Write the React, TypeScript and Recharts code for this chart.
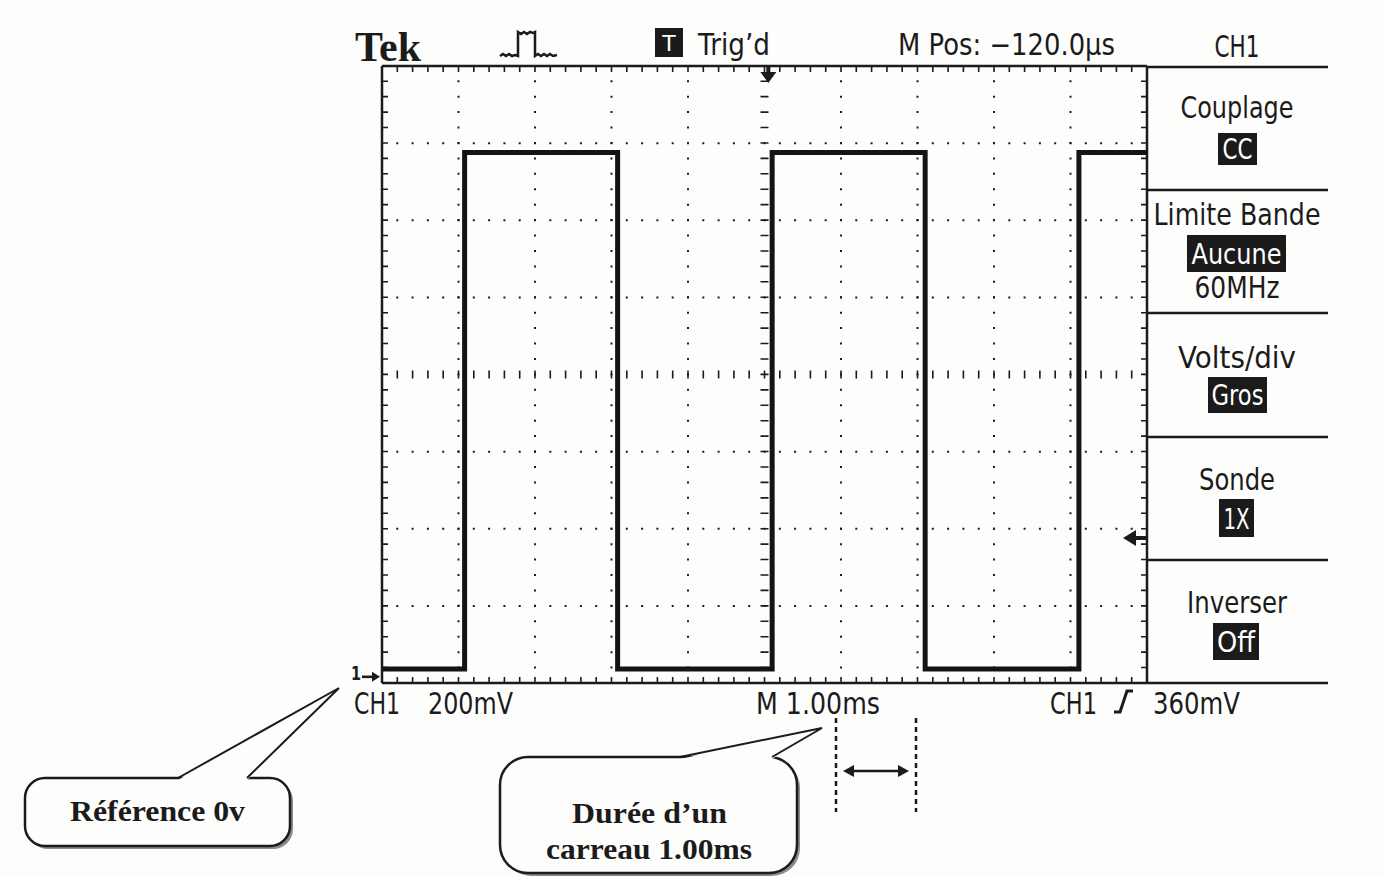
import { LineChart, Line, XAxis, YAxis, ReferenceLine, ReferenceDot } from "recharts";

// CH1 trace: time in ms (1.00 ms/div), level in volts (200 mV/div)
const timeMs = [0, 1.08, 1.08, 3.08, 3.08, 5.1, 5.1, 7.1, 7.1, 9.11, 9.11, 10];
const levelV = [0.02, 0.02, 1.36, 1.36, 0.02, 0.02, 1.36, 1.36, 0.02, 0.02, 1.36, 1.36];

const triggerTimeMs = 5.05;
const triggerLevelV = 0.36;
const groundV = 0;

const xMajorDivs = [1, 2, 3, 4, 6, 7, 8, 9];
const yMajorDivs = [1, 2, 3, 5, 6, 7];

const menuTitles = ["Couplage", "Limite Bande", "Volts/div", "Sonde", "Inverser"];
const menuValues = ["CC", "Aucune", "Gros", "1X", "Off"];

const data = timeMs.map((t, i) => ({ t, v: levelV[i] }));

const W = 1385;
const H = 877;
const PLOT = { left: 382, top: 66, right: 1147, bottom: 683 };
const MS_PER_DIV = 1;
const V_PER_DIV = 0.2;
const V_MIN = -0.016;
const V_MAX = V_MIN + 8 * V_PER_DIV;

const pxPerMs = (PLOT.right - PLOT.left) / (10 * MS_PER_DIV);
const pxPerV = (PLOT.bottom - PLOT.top) / (V_MAX - V_MIN);
const msPx = (px: number) => px / pxPerMs;
const vPx = (px: number) => px / pxPerV;

const INK = "#1b1b1b";
const PAPER = "#fdfdfb";
const SCOPE_FONT = "'DejaVu Sans', sans-serif";
const SERIF = "'Liberation Serif', 'Times New Roman', serif";

// minor tick spacing = 1/5 division
const hStep = (PLOT.right - PLOT.left) / 50;
const vStep = (PLOT.bottom - PLOT.top) / 40;
const hTicks = `1.6 ${(hStep - 1.6).toFixed(2)}`;
const vTicks = `1.6 ${(vStep - 1.6).toFixed(2)}`;
const hDots = `2 ${(hStep - 2).toFixed(2)}`;
const vDots = `2 ${(vStep - 2).toFixed(2)}`;

// condensed scope lettering: squeeze each label to the width it has on screen
function ScopeText(props: {
  x: number;
  y: number;
  w: number;
  size?: number;
  anchor?: "start" | "middle";
  fill?: string;
  children: string;
}) {
  const { x, y, w, size = 30, anchor = "start", fill = INK, children } = props;
  const left = anchor === "middle" ? x - w / 2 : x;
  return (
    <text
      x={left}
      y={y}
      textLength={w}
      lengthAdjust="spacingAndGlyphs"
      fontFamily={SCOPE_FONT}
      fontSize={size}
      fill={fill}
    >
      {children}
    </text>
  );
}

function TriggerMark(props: any) {
  const { cx, cy } = props;
  return (
    <g fill={INK}>
      <rect x={cx - 2} y={cy} width={4} height={8} />
      <path d={`M${cx - 8},${cy + 6} L${cx + 8},${cy + 6} L${cx},${cy + 17} Z`} />
    </g>
  );
}

function LevelMark(props: any) {
  const { cx, cy } = props;
  return (
    <g fill={INK}>
      <path d={`M${cx - 24},${cy} L${cx - 11},${cy - 8} L${cx - 11},${cy + 8} Z`} />
      <rect x={cx - 12} y={cy - 2} width={11} height={4} />
    </g>
  );
}

function GroundMark(props: any) {
  const { cx, cy } = props;
  return (
    <g fill={INK}>
      <text
        x={cx - 31}
        y={cy + 3}
        textLength={10}
        lengthAdjust="spacingAndGlyphs"
        fontFamily={SCOPE_FONT}
        fontWeight={700}
        fontSize={20}
      >
        1
      </text>
      <rect x={cx - 20} y={cy - 1.3} width={12} height={2.6} />
      <path d={`M${cx - 2},${cy} L${cx - 10},${cy - 5} L${cx - 10},${cy + 5} Z`} />
    </g>
  );
}

function Overlay() {
  const panelLines = [67, 190, 313, 437, 560, 683];
  const titleY = [118, 225, 368, 490, 613];
  const titleW = [113, 167, 118, 76, 100];
  const boxes = [
    { x: 1218, y: 133, w: 39, h: 32, ty: 159, tw: 30 },
    { x: 1187, y: 235, w: 99, h: 37, ty: 264, tw: 90 },
    { x: 1208, y: 377, w: 59, h: 36, ty: 405, tw: 52 },
    { x: 1219, y: 499, w: 35, h: 38, ty: 529, tw: 26 },
    { x: 1213, y: 623, w: 46, h: 37, ty: 652, tw: 38 },
  ];
  return (
    <svg
      width={W}
      height={H}
      style={{ position: "absolute", left: 0, top: 0, pointerEvents: "none" }}
    >
      {/* header */}
      <text
        x={355}
        y={61}
        textLength={66}
        lengthAdjust="spacingAndGlyphs"
        fontFamily={SERIF}
        fontWeight={700}
        fontSize={42}
        fill={INK}
      >
        Tek
      </text>
      <path
        d="M500,56 l3,-2 l3,2 l3,-2 l3,2 l3,-1 l3,1 L518,56 L518,32 l3,2 l3,-2 l3,2 l3,-2 l3,1 L535,32 L535,56 l3,-2 l3,2 l3,-2 l3,2 l3,-2 l3,2 l4,-1"
        stroke={INK}
        strokeWidth={2.5}
        fill="none"
      />
      <rect x={655} y={28} width={28} height={29} fill={INK} />
      <text x={669} y={51} textAnchor="middle" fontFamily={SCOPE_FONT} fontSize={22} fill="#fff">T</text>
      <ScopeText x={698} y={55} w={72}>Trig’d</ScopeText>
      <ScopeText x={898} y={55} w={217}>M Pos: −120.0µs</ScopeText>
      <ScopeText x={1237} y={57} w={45} anchor="middle">CH1</ScopeText>

      {/* side menu */}
      {menuTitles.map((t, i) => (
        <ScopeText key={t} x={1237} y={titleY[i]} w={titleW[i]} anchor="middle">
          {t}
        </ScopeText>
      ))}
      <ScopeText x={1237} y={298} w={85} anchor="middle">60MHz</ScopeText>
      {boxes.map((b, i) => (
        <g key={menuValues[i]}>
          <rect x={b.x} y={b.y} width={b.w} height={b.h} fill={INK} />
          <ScopeText x={b.x + b.w / 2} y={b.ty} w={b.tw} size={28} anchor="middle" fill="#fff">
            {menuValues[i]}
          </ScopeText>
        </g>
      ))}
      {panelLines.map((y) => (
        <line key={y} x1={PLOT.right} x2={1328} y1={y} y2={y} stroke={INK} strokeWidth={2.5} />
      ))}

      {/* status line */}
      <ScopeText x={354} y={714} w={46}>CH1</ScopeText>
      <ScopeText x={428} y={714} w={85}>200mV</ScopeText>
      <ScopeText x={756} y={714} w={124}>M 1.00ms</ScopeText>
      <ScopeText x={1050} y={714} w={47}>CH1</ScopeText>
      <ScopeText x={1153} y={714} w={87}>360mV</ScopeText>
      <path d="M1114,712 L1120,712 L1127,691 L1133,691" stroke={INK} strokeWidth={3} fill="none" />

      {/* callout: reference */}
      <rect x={28} y={781} width={265} height={68} rx={20} fill="#8a8a8a" />
      <rect x={25} y={778} width={265} height={68} rx={20} fill={PAPER} stroke={INK} strokeWidth={2.5} />
      <path d="M178,780 L339,688 L247,780 Z" fill={PAPER} />
      <path d="M178,778 L339,688 L247,778" stroke={INK} strokeWidth={2} fill="none" />
      <text
        x={70}
        y={821}
        textLength={175}
        lengthAdjust="spacingAndGlyphs"
        fontFamily={SERIF}
        fontWeight={700}
        fontSize={30}
        fill={INK}
      >
        Référence 0v
      </text>

      {/* callout: one division */}
      <rect x={503} y={760} width={297} height={116} rx={28} fill="#8a8a8a" />
      <rect x={500} y={757} width={297} height={116} rx={28} fill={PAPER} stroke={INK} strokeWidth={2.5} />
      <path d="M680,759 L822,728 L772,759 Z" fill={PAPER} />
      <path d="M680,757 L822,728 L772,757" stroke={INK} strokeWidth={2} fill="none" />
      <g fontFamily={SERIF} fontWeight={700} fontSize={30} fill={INK}>
        <text x={572} y={823} textLength={155} lengthAdjust="spacingAndGlyphs">Durée d’un</text>
        <text x={546} y={859} textLength={206} lengthAdjust="spacingAndGlyphs">carreau 1.00ms</text>
      </g>

      <line x1={836} x2={836} y1={718} y2={812} stroke={INK} strokeWidth={2.5} strokeDasharray="5 4" />
      <line x1={916} x2={916} y1={718} y2={812} stroke={INK} strokeWidth={2.5} strokeDasharray="5 4" />
      <line x1={852} x2={900} y1={771} y2={771} stroke={INK} strokeWidth={2.5} />
      <path d="M843,771 L854,765 L854,777 Z" fill={INK} />
      <path d="M909,771 L898,765 L898,777 Z" fill={INK} />
    </svg>
  );
}

export default function App() {
  return (
    <div
      style={{
        position: "absolute",
        left: 0,
        top: 0,
        width: W,
        height: H,
        background: PAPER,
        overflow: "hidden",
      }}
    >
      <LineChart
        width={W}
        height={H}
        data={data}
        margin={{ top: PLOT.top, left: PLOT.left, right: W - PLOT.right, bottom: H - PLOT.bottom }}
      >
        <XAxis dataKey="t" type="number" domain={[0, 10 * MS_PER_DIV]} allowDataOverflow hide />
        <YAxis type="number" domain={[V_MIN, V_MAX]} allowDataOverflow hide width={0} />

        {/* dotted graticule */}
        {xMajorDivs.map((d) => (
          <ReferenceLine key={`x${d}`} x={d * MS_PER_DIV} stroke={INK} strokeWidth={2} strokeDasharray={vDots} strokeDashoffset={1} ifOverflow="visible" />
        ))}
        {yMajorDivs.map((d) => (
          <ReferenceLine key={`y${d}`} y={V_MIN + d * V_PER_DIV} stroke={INK} strokeWidth={2} strokeDasharray={hDots} strokeDashoffset={1} ifOverflow="visible" />
        ))}

        {/* centre cross with minor ticks */}
        <ReferenceLine x={5 * MS_PER_DIV} stroke={INK} strokeWidth={8} strokeDasharray={vTicks} strokeDashoffset={0.8} ifOverflow="visible" />
        <ReferenceLine y={V_MIN + 4 * V_PER_DIV} stroke={INK} strokeWidth={8} strokeDasharray={hTicks} strokeDashoffset={0.8} ifOverflow="visible" />

        {/* edge ticks */}
        <ReferenceLine y={V_MAX - vPx(3)} stroke={INK} strokeWidth={6} strokeDasharray={hTicks} strokeDashoffset={0.8} ifOverflow="visible" />
        <ReferenceLine y={V_MIN + vPx(3)} stroke={INK} strokeWidth={6} strokeDasharray={hTicks} strokeDashoffset={0.8} ifOverflow="visible" />
        <ReferenceLine x={msPx(3)} stroke={INK} strokeWidth={6} strokeDasharray={vTicks} strokeDashoffset={0.8} ifOverflow="visible" />
        <ReferenceLine x={10 * MS_PER_DIV - msPx(3)} stroke={INK} strokeWidth={6} strokeDasharray={vTicks} strokeDashoffset={0.8} ifOverflow="visible" />

        {/* frame */}
        <ReferenceLine x={0} stroke={INK} strokeWidth={2.5} ifOverflow="visible" />
        <ReferenceLine x={10 * MS_PER_DIV} stroke={INK} strokeWidth={2.5} ifOverflow="visible" />
        <ReferenceLine y={V_MIN} stroke={INK} strokeWidth={2.5} ifOverflow="visible" />
        <ReferenceLine y={V_MAX} stroke={INK} strokeWidth={2.5} ifOverflow="visible" />

        <Line
          dataKey="v"
          type="linear"
          stroke="#141414"
          strokeWidth={5}
          dot={false}
          isAnimationActive={false}
        />

        <ReferenceDot x={triggerTimeMs} y={V_MAX} r={0} shape={TriggerMark} ifOverflow="visible" />
        <ReferenceDot x={10 * MS_PER_DIV} y={triggerLevelV} r={0} shape={LevelMark} ifOverflow="visible" />
        <ReferenceDot x={0} y={groundV} r={0} shape={GroundMark} ifOverflow="visible" />
      </LineChart>
      <Overlay />
    </div>
  );
}
